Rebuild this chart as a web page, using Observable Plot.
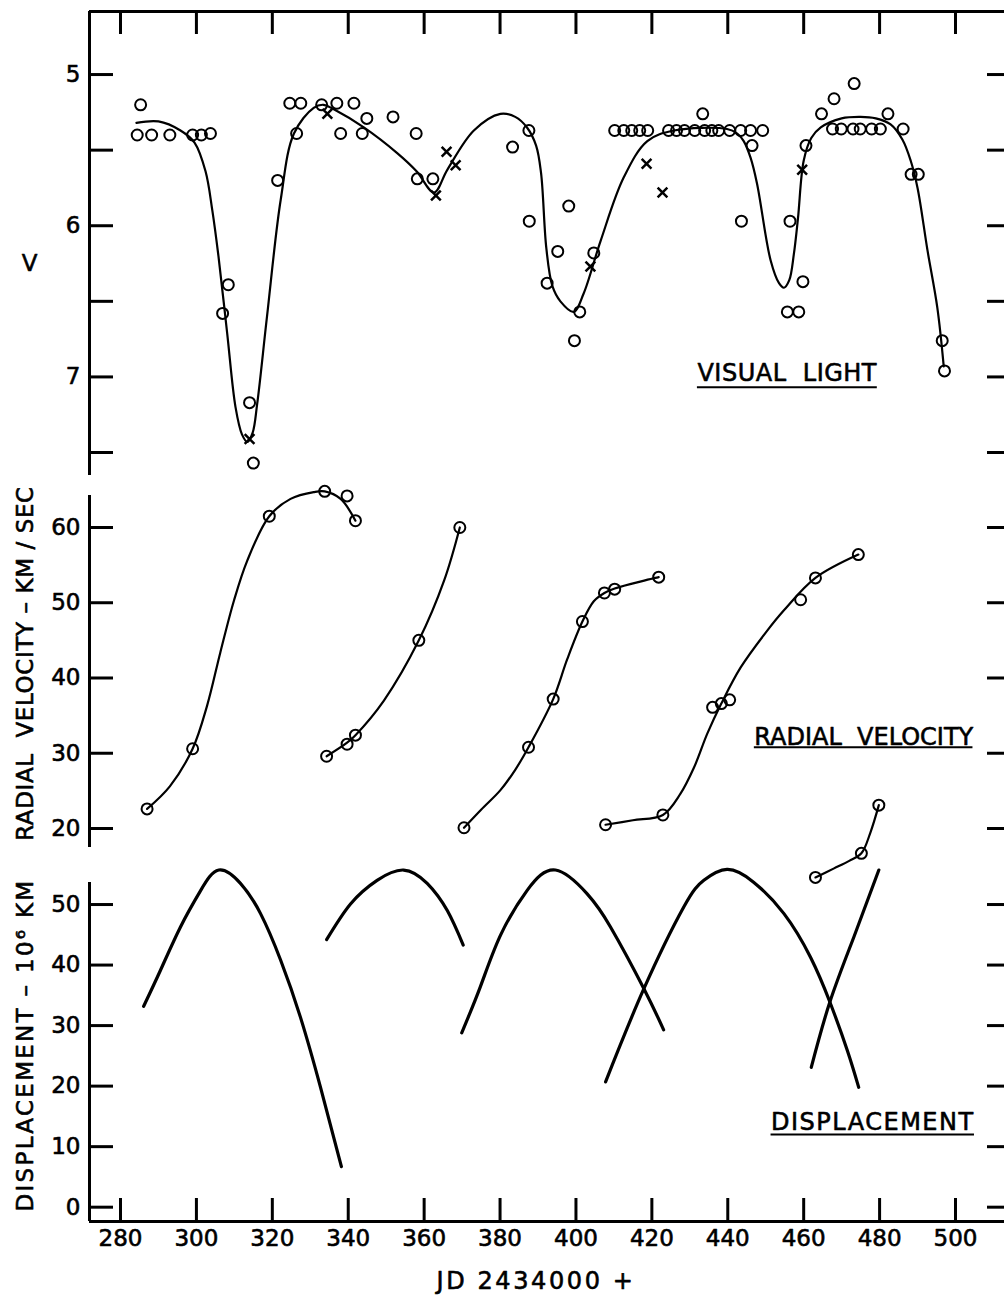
<!DOCTYPE html>
<html><head><meta charset="utf-8">
<script src="https://cdn.jsdelivr.net/npm/d3@7"></script>
<script src="https://cdn.jsdelivr.net/npm/@observablehq/plot@0.6"></script>
<style>
body{margin:0;background:#fff}
#chart{position:relative;width:1004px;height:1296px;background:#fff;overflow:hidden}
</style>
</head><body><div id="chart"></div>
<script>
// ---------- tick values ----------
const xTicks = [280, 300, 320, 340, 360, 380, 400, 420, 440, 460, 480, 500];
const vTicks = [5, 5.5, 6, 6.5, 7, 7.5];
const vTickLabels = [5, 6, 7];
const rvTicks = [20, 30, 40, 50, 60];
const dTicks = [0, 10, 20, 30, 40, 50];

// ---------- visual light (JD-2434000, V) ----------
const lightCircles = [
  [284.4,5.40],[285.3,5.20],[288.2,5.40],[293.0,5.40],[299.0,5.40],[301.3,5.40],[303.7,5.39],
  [306.9,6.58],[308.4,6.39],[314.0,7.17],[315.0,7.57],[321.4,5.70],[324.6,5.19],[327.5,5.19],
  [326.4,5.39],[333.0,5.20],[337.0,5.19],[338.0,5.39],[341.5,5.19],[343.7,5.39],[344.9,5.29],
  [351.8,5.28],[357.9,5.39],[358.2,5.69],[362.3,5.69],[383.3,5.48],[387.6,5.37],[387.7,5.97],
  [392.4,6.38],[395.2,6.17],[398.1,5.87],[399.6,6.76],[401.0,6.57],[404.7,6.18],
  [410.2,5.37],[412.6,5.37],[414.7,5.37],[416.8,5.37],[418.9,5.37],
  [424.4,5.37],[426.5,5.37],[428.6,5.37],[431.3,5.37],[433.4,5.26],[433.9,5.37],[435.8,5.37],
  [437.6,5.37],[440.5,5.37],[443.4,5.37],[443.6,5.97],[446.0,5.37],[446.4,5.47],[449.2,5.37],
  [455.7,6.57],[456.4,5.97],[458.7,6.57],[459.8,6.37],[460.6,5.47],[464.7,5.26],[468.0,5.16],
  [473.3,5.06],[467.6,5.36],[469.9,5.36],[473.0,5.36],[474.9,5.36],[477.9,5.36],[480.2,5.36],
  [482.2,5.26],[486.2,5.36],[488.3,5.66],[490.2,5.66],[496.5,6.76],[497.1,6.96]
];
const lightCrosses = [
  [314.0,7.41],[334.5,5.26],[363.1,5.80],[365.9,5.51],[368.3,5.60],[403.8,6.27],
  [418.6,5.59],[422.8,5.78],[459.6,5.63]
];
const lightCurve = [
  [284.2,5.32],[290,5.31],[295.8,5.37],[299.5,5.45],[302.4,5.64],[304.2,5.90],[305.8,6.20],
  [308.1,6.71],[310.3,7.20],[312,7.38],[313.4,7.43],[314.8,7.37],[316,7.18],[318.6,6.60],
  [322.2,5.83],[325.7,5.39],[330.9,5.22],[333.5,5.20],[336.2,5.23],[344.1,5.35],[352.9,5.52],
  [358,5.64],[362.6,5.78],[366.1,5.63],[373.1,5.37],[380.1,5.26],[384,5.28],[387.1,5.35],
  [389.5,5.47],[390.8,5.65],[392.2,6.15],[393.8,6.40],[395.9,6.50],[399.4,6.57],[402,6.45],
  [406.5,6.10],[412.6,5.68],[418.8,5.44],[425.8,5.37],[439.8,5.36],[442.5,5.39],[444.2,5.44],
  [446,5.55],[447.7,5.72],[451.3,6.23],[453.5,6.38],[454.8,6.41],[456.2,6.36],[457.4,6.19],
  [458.5,5.95],[460,5.57],[462,5.42],[464.5,5.35],[470,5.29],[475,5.28],[479,5.29],
  [482.9,5.33],[486,5.43],[488.2,5.57],[490,5.75],[492.6,6.16],[495.2,6.54],[496.9,6.93]
];

// ---------- radial velocity (JD-2434000, km/s) ----------
const rvCircles = [
  [287.0,22.6],[299.0,30.6],[319.2,61.5],[333.8,64.8],[339.7,64.2],[341.9,60.9],
  [334.3,29.6],[339.7,31.2],[341.9,32.4],[358.6,45.0],[369.4,60.0],
  [370.5,20.1],[387.5,30.8],[394.0,37.2],[401.7,47.5],[407.5,51.3],[410.2,51.8],[421.8,53.4],
  [407.8,20.5],[422.9,21.8],[436.0,36.1],[438.3,36.6],[440.5,37.1],[459.2,50.4],[463.1,53.3],[474.4,56.4],
  [463.1,13.5],[475.2,16.7],[479.8,23.1]
];
const rvCurve1 = [[287,22.6],[293,25.6],[299,30.6],[302.8,36.3],[306.3,43.4],[309.9,50.3],[313.4,55.6],[319.2,61.5],[324.8,63.8],[330.9,64.7],[333.8,64.8],[338,63.8],[341.9,60.9]];
const rvCurve2 = [[334.3,29.6],[339.7,31.4],[341.9,32.4],[349.4,37.0],[358.6,45.0],[365.3,53.0],[369.4,60.0]];
const rvCurve3 = [[370.5,20.1],[375,22.5],[380.1,25.1],[384,27.8],[387.5,30.8],[394,37.2],[397.7,42.5],[401.7,47.5],[404.7,50.2],[407.5,51.3],[410.2,51.9],[421.8,53.4]];
const rvCurve4 = [[407.8,20.5],[415,21.1],[422.9,21.8],[427.5,24.6],[431.1,28.1],[434.6,32.6],[438.3,36.6],[443.4,41.4],[450.4,46.3],[454.8,49.0],[463.1,53.3],[474.4,56.4]];
const rvCurve5 = [[463.1,13.5],[468,14.7],[472,15.7],[475.2,16.7],[477.6,19.5],[479.8,23.1]];

// ---------- displacement (JD-2434000, 10^6 km) ----------
const dispA = [[286.1,33.2],[290.5,39.1],[295.8,46.3],[301.1,52.3],[305.9,55.7],[311.6,53.5],[316.9,48.5],[322.2,40.8],[327.4,31.4],[332.7,19.8],[338.2,6.7]];
const dispB = [[334.3,44.2],[340.6,50.1],[347.6,54.0],[354.6,55.7],[360.8,53.5],[366.1,49.0],[370.3,43.3]];
const dispC = [[369.9,28.8],[374.8,36.4],[380.1,44.9],[387.1,52.3],[394.6,55.7],[402.9,51.8],[409.1,46.3],[417.9,36.1],[423.1,29.3]];
const dispD = [[407.8,20.7],[417.9,36.1],[428.4,49.6],[433.7,54.0],[439.8,55.8],[446.8,53.7],[454.8,48.5],[461.8,41.3],[466.9,33.9],[471.5,25.9],[474.5,19.8]];
const dispE = [[462.0,23.1],[466.9,33.9],[473.2,44.6],[479.8,55.7]];

// ---------- texts ----------
const vLabel = "V";
const rvLabel = "RADIAL\u00a0\u00a0VELOCITY \u2013 KM / SEC";
const dLabel = "DISPLACEMENT \u2013 10\u2076 KM";
const xLabel = "JD 2434000 +";
const lightTitle = "VISUAL\u00a0\u00a0LIGHT";
const rvTitle = "RADIAL\u00a0\u00a0VELOCITY";
const dTitle = "DISPLACEMENT";
const spacing = new Map([[rvLabel, 0.6], [dLabel, 2.3], [xLabel, 2.6], [dTitle, 1.5], [lightTitle, 0.5]]);

// ---------- layout ----------
const W = 1004, H = 1296, ML = 89;
const xDomain = [271.83, 512.91];
const vDomain = [4.583, 7.652];
const rvDomain = [17.475, 64.25];
const dDomain = [-2.365, 53.64];
const FONT = "DejaVu Sans";
const frameW = W - ML;
const TXT = {fill: "black", stroke: "black", strokeWidth: 0.6};

const tag = (arr, k) => arr.map(([x, y]) => ({x, y, k}));

function panel(top, bottom, yDomain, reverse, marks) {
  const svg = Plot.plot({
    width: W, height: H,
    marginLeft: ML, marginRight: 0, marginTop: top, marginBottom: H - bottom,
    x: {domain: xDomain, axis: null},
    y: {domain: yDomain, reverse, axis: null},
    style: {position: "absolute", left: "0px", top: "0px", background: "transparent",
            fontFamily: FONT, color: "black", overflow: "visible"},
    marks
  });
  d3.select(svg).selectAll("text").each(function () {
    const s = spacing.get(this.textContent);
    if (s != null) this.style.letterSpacing = s + "px";
  });
  return svg;
}

function yTicksMarks(ticks, labels) {
  return [
    Plot.tickY(ticks, {y: d => d, insetRight: frameW - 24, strokeWidth: 3, stroke: "black"}),
    Plot.tickY(ticks, {y: d => d, insetLeft: frameW - 17, strokeWidth: 3, stroke: "black"}),
    Plot.text(labels, {y: d => d, text: d => String(d), frameAnchor: "left", dx: -9,
      textAnchor: "end", fontSize: 23, ...TXT})
  ];
}

const chart = document.getElementById("chart");

// Panel 1: visual light
chart.appendChild(panel(11, 475, vDomain, true, [
  Plot.ruleX([xDomain[0]], {strokeWidth: 3}),
  Plot.ruleY([vDomain[0]], {strokeWidth: 3}),
  Plot.tickX(xTicks, {x: d => d, insetBottom: (475 - 11) - 23, strokeWidth: 3}),
  ...yTicksMarks(vTicks, vTickLabels),
  Plot.text([vLabel], {frameAnchor: "left", textAnchor: "middle", dx: -60, dy: 20, fontSize: 23, ...TXT}),
  Plot.line(lightCurve, {x: d => d[0], y: d => d[1], curve: "catmull-rom", strokeWidth: 2.2}),
  Plot.dot(lightCircles, {x: d => d[0], y: d => d[1], r: 5.5, stroke: "black", strokeWidth: 2, fill: "none"}),
  Plot.dot(lightCrosses, {x: d => d[0], y: d => d[1], r: 4.5, symbol: "times", stroke: "black", strokeWidth: 2.5}),
  Plot.text([lightTitle], {x: 432, y: 6.978, textAnchor: "start", fontSize: 24, ...TXT}),
  Plot.ruleY([7.068], {x1: 432, x2: 479.4, strokeWidth: 2})
]));

// Panel 2: radial velocity
const rvCurves = [
  ...tag(rvCurve1, 1), ...tag(rvCurve2, 2), ...tag(rvCurve3, 3), ...tag(rvCurve4, 4), ...tag(rvCurve5, 5)
];
chart.appendChild(panel(495, 847, rvDomain, false, [
  Plot.ruleX([xDomain[0]], {strokeWidth: 3}),
  ...yTicksMarks(rvTicks, rvTicks),
  Plot.text([rvLabel], {frameAnchor: "left", textAnchor: "middle", rotate: -90, dx: -64, dy: -8, fontSize: 23, ...TXT}),
  Plot.line(rvCurves, {x: "x", y: "y", z: "k", curve: "catmull-rom", strokeWidth: 2.2}),
  Plot.dot(rvCircles, {x: d => d[0], y: d => d[1], r: 5.5, stroke: "black", strokeWidth: 2, fill: "none"}),
  Plot.text([rvTitle], {x: 447.0, y: 32.13, textAnchor: "start", fontSize: 24, ...TXT}),
  Plot.ruleY([30.8], {x1: 447.0, x2: 504.6, strokeWidth: 2})
]));

// Panel 3: displacement
const dispCurves = [
  ...tag(dispA, "A"), ...tag(dispB, "B"), ...tag(dispC, "C"), ...tag(dispD, "D"), ...tag(dispE, "E")
];
chart.appendChild(panel(882, 1221, dDomain, false, [
  Plot.ruleX([xDomain[0]], {strokeWidth: 3}),
  Plot.ruleY([dDomain[0]], {strokeWidth: 3}),
  Plot.tickX(xTicks, {x: d => d, insetTop: (1221 - 882) - 23, strokeWidth: 3}),
  Plot.text(xTicks, {x: d => d, text: d => String(d), frameAnchor: "bottom", dy: 24, fontSize: 23, ...TXT}),
  ...yTicksMarks(dTicks, dTicks),
  Plot.text([dLabel], {frameAnchor: "left", textAnchor: "middle", rotate: -90, dx: -64, dy: -7, fontSize: 23, ...TXT}),
  Plot.text([xLabel], {frameAnchor: "bottom", textAnchor: "middle", dx: -11, dy: 67, fontSize: 24, ...TXT}),
  Plot.line(dispCurves, {x: "x", y: "y", z: "k", curve: "natural", strokeWidth: 3.2}),
  Plot.text([dTitle], {x: 451.4, y: 14.06, textAnchor: "start", fontSize: 24, ...TXT}),
  Plot.ruleY([12.02], {x1: 451.4, x2: 505.0, strokeWidth: 2})
]));
</script></body></html>
